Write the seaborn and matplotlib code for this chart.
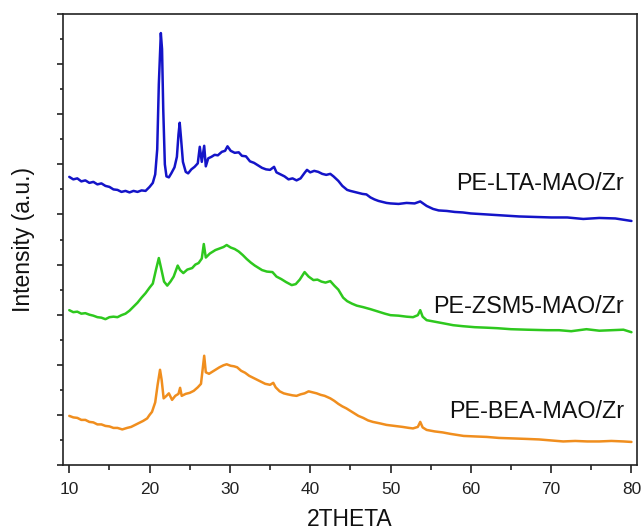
import numpy as np
import pandas as pd
import matplotlib
matplotlib.use("Agg")
import matplotlib.pyplot as plt
from matplotlib.ticker import MultipleLocator, NullFormatter
import seaborn as sns

# XRD patterns (2-theta in degrees, offset intensity in arbitrary units)
lta_2theta = [10.0, 10.5, 11.0, 11.5, 12.0, 12.5, 13.0, 13.5, 14.0, 14.5, 15.0, 15.5, 16.0, 16.5,
              17.0, 17.5, 18.0, 18.5, 19.0, 19.5, 20.0, 20.4, 20.7, 20.95, 21.15, 21.4, 21.55,
              21.7, 21.9, 22.1, 22.4, 22.7, 23.1, 23.4, 23.6, 23.75, 23.9, 24.15, 24.5, 24.8,
              25.2, 25.6, 26.0, 26.25, 26.5, 26.8, 27.0, 27.3, 27.7, 28.1, 28.5, 29.0, 29.4,
              29.7, 30.1, 30.6, 31.1, 31.5, 32.0, 32.5, 33.0, 33.5, 34.0, 34.5, 35.0, 35.5,
              35.8, 36.3, 36.8, 37.3, 37.8, 38.3, 38.8, 39.3, 39.6, 40.0, 40.5, 41.0, 41.5,
              42.0, 42.5, 42.9, 43.5, 44.0, 44.6, 45.0, 45.5, 46.0, 46.5, 47.0, 47.5, 48.0,
              48.5, 49.0, 49.5, 50.0, 51.0, 52.0, 53.0, 53.7, 54.5, 55.3, 56.0, 57.0, 58.0,
              59.0, 60.0, 62.0, 64.0, 66.0, 68.0, 70.0, 72.0, 74.0, 76.0, 78.0, 80.0]
lta_intensity = [5.75, 5.70, 5.72, 5.66, 5.68, 5.63, 5.65, 5.60, 5.62, 5.57, 5.55, 5.50, 5.49, 5.45,
                 5.47, 5.44, 5.47, 5.45, 5.48, 5.47, 5.55, 5.63, 5.80, 6.30, 7.60, 8.62, 8.30,
                 7.10, 6.00, 5.76, 5.74, 5.82, 5.94, 6.15, 6.60, 6.83, 6.55, 6.05, 5.85, 5.82,
                 5.90, 5.95, 6.02, 6.35, 6.05, 6.37, 5.96, 6.12, 6.15, 6.19, 6.18, 6.25, 6.27,
                 6.36, 6.27, 6.23, 6.24, 6.17, 6.16, 6.06, 6.03, 5.98, 5.93, 5.90, 5.89, 5.95,
                 5.84, 5.80, 5.76, 5.70, 5.72, 5.68, 5.72, 5.83, 5.89, 5.84, 5.87, 5.85, 5.81,
                 5.79, 5.81, 5.76, 5.67, 5.57, 5.49, 5.47, 5.45, 5.43, 5.41, 5.40, 5.34, 5.30,
                 5.27, 5.25, 5.23, 5.22, 5.21, 5.23, 5.22, 5.26, 5.17, 5.11, 5.08, 5.07, 5.05,
                 5.04, 5.02, 5.00, 4.98, 4.96, 4.95, 4.94, 4.94, 4.91, 4.93, 4.92, 4.87]

zsm5_2theta = [10.0, 10.5, 11.0, 11.5, 12.0, 12.5, 13.0, 13.5, 14.0, 14.5, 15.0, 15.5, 16.0, 16.5,
               17.0, 17.5, 18.0, 18.5, 19.0, 19.5, 20.0, 20.4, 20.8, 21.15, 21.5, 21.8, 22.2,
               22.6, 23.0, 23.5, 23.8, 24.2, 24.7, 25.3, 25.7, 26.1, 26.5, 26.75, 27.0, 27.5,
               28.2, 28.7, 29.2, 29.6, 30.1, 30.6, 31.1, 31.6, 32.1, 32.6, 33.1, 33.6, 34.0,
               34.6, 35.3, 35.8, 36.4, 37.0, 37.7, 38.2, 38.7, 39.3, 39.8, 40.4, 40.9, 41.4,
               41.9, 42.5, 43.0, 43.5, 44.1, 44.6, 45.2, 45.8, 46.6, 47.5, 48.5, 49.3, 50.0,
               51.0, 52.0, 52.8, 53.4, 53.7, 54.0, 54.5, 55.5, 56.5, 57.8, 59.0, 60.5, 62.0,
               63.3, 65.0, 67.0, 69.5, 71.0, 72.5, 74.4, 76.0, 77.5, 79.0, 80.0]
zsm5_intensity = [3.09, 3.05, 3.06, 3.02, 3.03, 3.00, 2.98, 2.95, 2.94, 2.91, 2.95, 2.96, 2.95, 2.99,
                  3.02, 3.08, 3.16, 3.24, 3.34, 3.43, 3.54, 3.62, 3.90, 4.13, 3.88, 3.66, 3.58,
                  3.66, 3.76, 3.98, 3.89, 3.83, 3.90, 3.93, 4.00, 4.03, 4.12, 4.41, 4.14, 4.22,
                  4.29, 4.32, 4.35, 4.39, 4.34, 4.31, 4.26, 4.19, 4.11, 4.04, 3.98, 3.93, 3.89,
                  3.86, 3.85, 3.76, 3.71, 3.65, 3.59, 3.61, 3.70, 3.85, 3.76, 3.69, 3.70, 3.66,
                  3.64, 3.67, 3.58, 3.50, 3.34, 3.27, 3.22, 3.18, 3.15, 3.11, 3.06, 3.02, 2.99,
                  2.98, 2.96, 2.95, 2.99, 3.09, 2.96, 2.89, 2.86, 2.83, 2.79, 2.77, 2.75, 2.74,
                  2.73, 2.71, 2.70, 2.69, 2.69, 2.67, 2.71, 2.68, 2.69, 2.70, 2.65]

bea_2theta = [10.0, 10.5, 11.0, 11.5, 12.0, 12.5, 13.0, 13.5, 14.0, 14.5, 15.0, 15.5, 16.0, 16.6,
              17.2, 17.7, 18.2, 18.7, 19.2, 19.7, 20.0, 20.3, 20.7, 21.0, 21.3, 21.5, 21.75,
              22.1, 22.4, 22.8, 23.2, 23.6, 23.8, 24.0, 24.5, 25.0, 25.5, 26.0, 26.4, 26.8,
              27.0, 27.4, 27.8, 28.2, 28.7, 29.2, 29.6, 30.1, 30.5, 30.9, 31.4, 31.9, 32.4,
              32.9, 33.4, 33.9, 34.4, 35.0, 35.4, 35.7, 36.2, 36.7, 37.2, 37.8, 38.3, 38.8,
              39.3, 39.8, 40.3, 40.8, 41.3, 41.8, 42.5, 43.0, 43.5, 44.0, 44.5, 45.0, 45.5,
              46.0, 46.6, 47.2, 47.8, 48.7, 49.5, 50.5, 51.5, 52.3, 52.8, 53.4, 53.7, 54.0,
              54.5, 55.5, 56.5, 57.5, 59.1, 60.5, 62.0, 63.5, 65.3, 67.0, 68.5, 70.0, 71.5,
              73.0, 74.5, 76.0, 77.5, 79.0, 80.0]
bea_intensity = [0.98, 0.95, 0.94, 0.90, 0.90, 0.86, 0.85, 0.81, 0.81, 0.78, 0.77, 0.74, 0.74, 0.71,
                 0.74, 0.76, 0.80, 0.84, 0.88, 0.93, 1.00, 1.06, 1.25, 1.60, 1.90, 1.70, 1.33,
                 1.38, 1.43, 1.30, 1.38, 1.42, 1.54, 1.38, 1.42, 1.44, 1.48, 1.55, 1.62, 2.18,
                 1.85, 1.82, 1.86, 1.90, 1.95, 1.99, 2.01, 1.98, 1.97, 1.95, 1.88, 1.84, 1.78,
                 1.74, 1.70, 1.66, 1.62, 1.60, 1.64, 1.55, 1.47, 1.43, 1.41, 1.39, 1.38, 1.41,
                 1.43, 1.47, 1.45, 1.43, 1.40, 1.38, 1.33, 1.28, 1.22, 1.17, 1.13, 1.08, 1.03,
                 0.98, 0.94, 0.89, 0.86, 0.83, 0.80, 0.78, 0.76, 0.74, 0.73, 0.76, 0.86, 0.75,
                 0.70, 0.67, 0.65, 0.62, 0.58, 0.57, 0.56, 0.54, 0.53, 0.52, 0.51, 0.49, 0.47,
                 0.48, 0.47, 0.47, 0.48, 0.47, 0.46]

sample_names = ["PE-LTA-MAO/Zr", "PE-ZSM5-MAO/Zr", "PE-BEA-MAO/Zr"]
label_heights = [5.61, 3.16, 1.06]
line_colors = ["#1414C8", "#2EC81E", "#F08E1E"]

frames = []
for name, tt, inten in zip(sample_names,
                           [lta_2theta, zsm5_2theta, bea_2theta],
                           [lta_intensity, zsm5_intensity, bea_intensity]):
    frames.append(pd.DataFrame({"2theta": tt, "intensity": inten, "sample": name}))
df = pd.concat(frames, ignore_index=True)

sns.set_theme(style="ticks")
plt.rcParams["font.family"] = ["Liberation Sans", "DejaVu Sans"]

fig = plt.figure(figsize=(6.43, 5.31), dpi=100)
ax = fig.add_axes([0.0975, 0.1243, 0.8924, 0.8493])

sns.lineplot(data=df, x="2theta", y="intensity", hue="sample", hue_order=sample_names,
             palette=line_colors, estimator=None, sort=False, linewidth=1.8,
             legend=False, ax=ax)

for name, h, c in zip(sample_names, label_heights, line_colors):
    ax.text(79.1, h, name, ha="right", va="center", fontsize=16.8, color="#111111")

ax.set_xlim(9.18, 80.63)
ax.set_ylim(0, 9.0)
ax.xaxis.set_major_locator(MultipleLocator(10))
ax.xaxis.set_minor_locator(MultipleLocator(5))
ax.yaxis.set_major_locator(MultipleLocator(1))
ax.yaxis.set_minor_locator(MultipleLocator(0.5))
ax.yaxis.set_major_formatter(NullFormatter())

ax.tick_params(axis="both", which="major", direction="out", width=1.2, colors="#222222")
ax.tick_params(axis="x", which="major", length=6, labelsize=12.5, pad=6)
ax.tick_params(axis="x", which="minor", direction="out", length=3.5, width=1.2, colors="#222222")
ax.tick_params(axis="y", which="major", length=4.5)
ax.tick_params(axis="y", which="minor", direction="out", length=2.5, width=1.2, colors="#222222")

for s in ax.spines.values():
    s.set_linewidth(1.2)
    s.set_color("#222222")

ax.set_xlabel("2THETA", fontsize=16.5, labelpad=8, color="#111111")
ax.set_ylabel("Intensity (a.u.)", fontsize=16.5, labelpad=12, color="#111111")

fig.savefig("out.png", dpi=100)
